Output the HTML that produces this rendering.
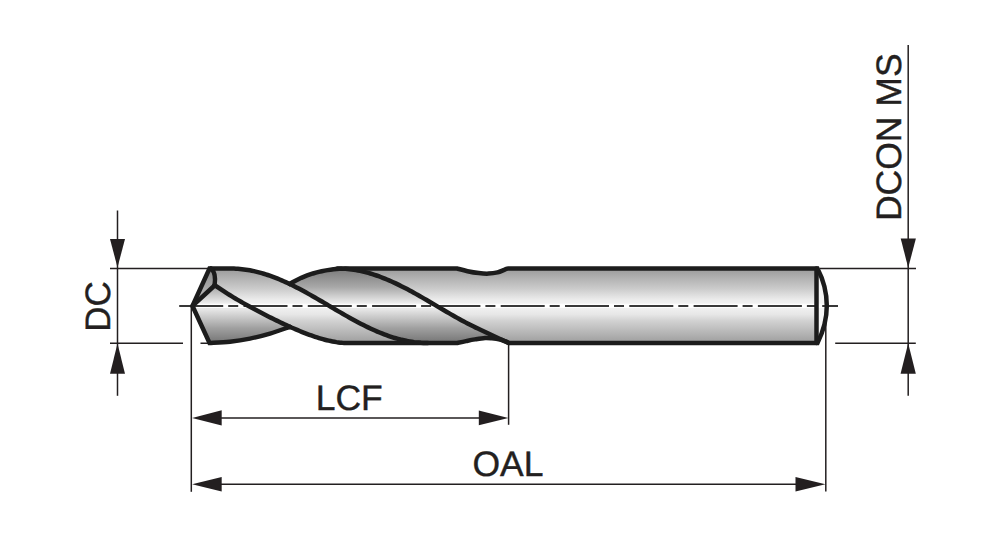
<!DOCTYPE html>
<html><head><meta charset="utf-8"><style>
html,body{margin:0;padding:0;background:#fff;}
svg{display:block;}
text{font-family:"Liberation Sans", sans-serif;fill:#231f20;stroke:#231f20;stroke-width:0.4px;}
</style></head><body>
<svg width="1000" height="537" viewBox="0 0 1000 537" text-rendering="geometricPrecision">
<defs>
<linearGradient id="land" gradientUnits="userSpaceOnUse" x1="0" y1="268.5" x2="0" y2="343.0">
<stop offset="0" stop-color="#9a9a9a"/>
<stop offset="0.275" stop-color="#cccccc"/>
<stop offset="0.42" stop-color="#ececec"/>
<stop offset="0.5" stop-color="#f4f4f4"/>
<stop offset="0.62" stop-color="#e6e6e6"/>
<stop offset="0.7" stop-color="#d2d2d2"/>
<stop offset="0.95" stop-color="#a6a6a6"/>
<stop offset="1" stop-color="#a0a0a0"/>
</linearGradient>
<linearGradient id="flute" gradientUnits="userSpaceOnUse" x1="0" y1="268.5" x2="0" y2="343.0">
<stop offset="0" stop-color="#7a7a7a"/>
<stop offset="0.25" stop-color="#a8a8a8"/>
<stop offset="0.47" stop-color="#eeeeee"/>
<stop offset="0.55" stop-color="#e6e6e6"/>
<stop offset="0.8" stop-color="#a0a0a0"/>
<stop offset="1" stop-color="#747474"/>
</linearGradient>
<linearGradient id="facet" gradientUnits="userSpaceOnUse" x1="0" y1="268.5" x2="0" y2="305">
<stop offset="0" stop-color="#8a8a8a"/>
<stop offset="1" stop-color="#c4c4c4"/>
</linearGradient>
</defs>
<g stroke="#231f20" stroke-width="1.5" fill="none">
<!-- DC dimension -->
<path d="M117.5,210.5 V395.8"/>
<path d="M110,268.5 H208"/>
<path d="M110,343.2 H183 M200.5,343.2 H209"/>
<!-- OAL/LCF extension -->
<path d="M191.3,306 V491.8"/>
<path d="M508.6,344 V424.8"/>
<path d="M825.8,318 V491.5"/>
<!-- DCON -->
<path d="M908.2,45 V395.8"/>
<path d="M820,268.5 H916"/>
<path d="M835.2,343.2 H915.8"/>
<!-- LCF line -->
<path d="M200,417.9 H500"/>
<path d="M200,484.3 H815"/>
</g>
<g fill="#231f20">
<path d="M110,239 L125,239 L117.5,267.5 Z"/>
<path d="M110,373.7 L125,373.7 L117.5,343.4 Z"/>
<path d="M900.7,238.4 L915.9,238.4 L908.2,267.8 Z"/>
<path d="M900.6,373.7 L915.8,373.7 L908.2,343.3 Z"/>
<path d="M192.1,417.9 L221.7,410.3 L221.7,425.4 Z"/>
<path d="M508.4,417.9 L478.8,410.6 L478.8,425.2 Z"/>
<path d="M192.1,484.3 L221.7,477.1 L221.7,491.5 Z"/>
<path d="M825.4,484.2 L795.5,477 L795.5,491.4 Z"/>
</g>
<text transform="translate(349.2,409.6) scale(1,0.995)" font-size="35.5" text-anchor="middle">LCF</text>
<text transform="translate(507.9,476.3) scale(1,0.995)" font-size="35.5" text-anchor="middle">OAL</text>
<text transform="translate(109.6,306.4) rotate(-90) scale(0.985,0.995)" font-size="35.5" text-anchor="middle">DC</text>
<text transform="translate(900.7,137.2) rotate(-90) scale(1,0.995)" font-size="35.5" text-anchor="middle">DCON MS</text>
<!-- drill -->
<path d="M192.5,305.9 L209.5,268.5 L230,268.5 L231.99,268.52 L233.97,268.57 L235.96,268.67 L237.95,268.8 L239.93,268.96 L241.92,269.16 L243.91,269.4 L245.9,269.68 L247.88,269.99 L249.87,270.34 L251.86,270.72 L253.84,271.13 L255.83,271.58 L257.82,272.07 L259.8,272.59 L261.79,273.14 L263.78,273.72 L265.77,274.34 L267.75,274.99 L269.74,275.66 L271.73,276.37 L273.71,277.11 L275.7,277.87 L277.69,278.66 L279.67,279.48 L281.66,280.33 L283.65,281.2 L285.63,282.09 L287.62,283.01 L289.61,283.95 L292.53,282.25 L295.45,280.66 L298.37,279.19 L301.29,277.83 L304.21,276.59 L307.13,275.45 L310.05,274.42 L312.97,273.48 L315.88,272.64 L318.8,271.88 L321.72,271.22 L324.64,270.63 L327.56,270.13 L330.48,269.7 L333.4,269.34 L336.32,269.04 L339.24,268.81 L342.16,268.64 L345.08,268.52 L348,268.5 L457,268.5 C458.75,268.95 463.87,270.43 467.5,271.2 C471.13,271.97 475.3,272.7 478.8,273.1 C482.3,273.5 485.38,273.72 488.5,273.6 C491.62,273.48 494.87,273.03 497.5,272.4 C500.13,271.77 502.55,270.45 504.3,269.8 C506.05,269.15 507.38,268.72 508,268.5 L817.5,268.5 C823.5,280 826.8,293 826.8,305.75 C826.8,318.5 823.5,331 817.5,343 L509,343 C508.33,342.7 506.5,341.78 505,341.2 C503.5,340.62 502.17,339.98 500,339.5 C497.83,339.02 494.5,338.55 492,338.3 C489.5,338.05 487.83,337.82 485,338 C482.17,338.18 478.17,338.88 475,339.4 C471.83,339.92 469,340.5 466,341.1 C463,341.7 458.5,342.68 457,343 L348,343 L346.07,343 L344.13,342.97 L342.2,342.83 L340.27,342.64 L338.33,342.41 L336.4,342.14 L334.47,341.82 L332.53,341.47 L330.6,341.08 L328.67,340.65 L326.73,340.19 L324.8,339.7 L322.87,339.18 L320.93,338.63 L319,338.05 L317.07,337.44 L315.13,336.81 L313.2,336.16 L311.27,335.48 L309.33,334.78 L307.4,334.06 L305.47,333.32 L303.53,332.56 L301.6,331.79 L299.67,331 L297.73,330.19 L295.8,329.37 L293.87,328.54 L291.93,327.69 L290,326.83 C286.67,327.95 276.67,331.64 270,333.6 C263.33,335.56 256.67,337.25 250,338.6 C243.33,339.95 236.75,340.97 230,341.7 C223.25,342.43 212.92,342.78 209.5,343 Z" fill="url(#land)"/>
<path d="M192.5,305.9 L214.6,285.5 L216.48,286.35 L218.37,287.65 L220.25,288.92 L222.14,290.18 L224.03,291.41 L225.91,292.63 L227.79,293.83 L229.68,295.01 L231.56,296.17 L233.45,297.32 L235.34,298.45 L237.22,299.57 L239.1,300.67 L240.99,301.76 L242.88,302.84 L244.76,303.91 L246.64,304.97 L248.53,306.01 L250.41,307.05 L252.3,308.08 L254.19,309.09 L256.07,310.1 L257.95,311.1 L259.84,312.09 L261.73,313.08 L263.61,314.05 L265.5,315.02 L267.38,315.98 L269.26,316.93 L271.15,317.87 L273.03,318.81 L274.92,319.74 L276.81,320.65 L278.69,321.56 L280.57,322.47 L282.46,323.36 L284.35,324.24 L286.23,325.11 L288.12,325.97 L290,326.83 C286.67,327.95 276.67,331.64 270,333.6 C263.33,335.56 256.67,337.25 250,338.6 C243.33,339.95 236.75,340.97 230,341.7 C223.25,342.43 212.92,342.78 209.5,343 Z" fill="url(#flute)"/>
<path d="M289.61,283.95 L292.53,282.25 L295.45,280.66 L298.37,279.19 L301.29,277.83 L304.21,276.59 L307.13,275.45 L310.05,274.42 L312.97,273.48 L315.88,272.64 L318.8,271.88 L321.72,271.22 L324.64,270.63 L327.56,270.13 L330.48,269.7 L333.4,269.34 L336.32,269.04 L339.24,268.81 L342.16,268.64 L345.08,268.52 L348,268.5 L337.3,268.5 L339.37,268.52 L341.43,268.58 L343.5,268.68 L345.57,268.82 L347.64,269 L349.7,269.22 L351.77,269.48 L353.84,269.77 L355.9,270.11 L357.97,270.49 L360.04,270.9 L362.11,271.35 L364.17,271.84 L366.24,272.36 L368.31,272.92 L370.37,273.51 L372.44,274.14 L374.51,274.81 L376.58,275.5 L378.64,276.23 L380.71,276.99 L382.78,277.78 L384.84,278.61 L386.91,279.46 L388.98,280.34 L391.05,281.24 L393.11,282.18 L395.18,283.13 L397.25,284.12 L399.31,285.12 L401.38,286.15 L403.45,287.2 L405.52,288.27 L407.58,289.36 L409.65,290.46 L411.72,291.59 L413.78,292.72 L415.85,293.88 L417.92,295.04 L419.99,296.22 L422.05,297.4 L424.12,298.6 L426.19,299.8 L428.25,301.01 L430.32,302.22 L432.39,303.44 L434.46,304.66 L436.52,305.88 L438.59,307.1 L440.66,308.32 L442.72,309.54 L444.79,310.75 L446.86,311.96 L448.93,313.16 L450.99,314.36 L453.06,315.54 L455.13,316.71 L457.19,317.87 L459.26,319.02 L461.33,320.16 L463.4,321.28 L465.46,322.38 L467.53,323.46 L469.6,324.53 L471.66,325.57 L473.73,326.6 L475.8,327.6 L477.87,328.57 L479.93,329.53 L482,330.45 L508.5,343 L505,341.2 L500,339.5 L492,338.3 L485,338 L475,339 L466,340.8 L457,343 L428,343 L428,343 L425.69,342.98 L423.39,342.9 L421.08,342.78 L418.77,342.6 L416.47,342.38 L414.16,342.11 L411.85,341.78 L409.55,341.41 L407.24,341 L404.93,340.53 L402.63,340.02 L400.32,339.47 L398.02,338.86 L395.71,338.22 L393.4,337.53 L391.1,336.79 L388.79,336.02 L386.48,335.21 L384.18,334.35 L381.87,333.46 L379.56,332.53 L377.26,331.56 L374.95,330.57 L372.64,329.53 L370.34,328.47 L368.03,327.37 L365.72,326.25 L363.42,325.1 L361.11,323.92 L358.8,322.72 L356.5,321.49 L354.19,320.25 L351.88,318.98 L349.58,317.7 L347.27,316.4 L344.97,315.09 L342.66,313.76 L340.35,312.42 L338.05,311.08 L335.74,309.73 L333.43,308.37 L331.13,307.01 L328.82,305.64 L326.51,304.28 L324.21,302.92 L321.9,301.56 L319.59,300.21 L317.29,298.87 L314.98,297.53 L312.67,296.21 L310.37,294.9 L308.06,293.6 L305.75,292.32 L303.45,291.06 L301.14,289.82 L298.83,288.59 L296.53,287.4 L294.22,286.22 L291.92,285.07 L289.61,283.95 Z" fill="url(#flute)"/>
<path d="M192.5,305.9 L209.5,268.5 L211,268.5 C214,271 216,276 214.6,285.5 Z" fill="url(#facet)"/>
<path d="M816.8,268.5 L817.5,268.5 C823.5,280 826.8,293 826.8,305.75 C826.8,318.5 823.5,331 817.5,343 L816.8,343 Z" fill="#f6f6f6"/>
<path d="M196,305.9 H836" stroke="#ffffff" stroke-width="4.2" fill="none" opacity="0.85"/>
<path d="M179.2,305.9 H838" stroke="#383838" stroke-width="2" stroke-dasharray="44 5 10 5.3" fill="none"/>
<g stroke="#1c1c1c" stroke-width="4.5" fill="none" stroke-linejoin="round" stroke-linecap="round">
<path d="M192.5,305.9 L209.5,268.5 L230,268.5 L231.99,268.52 L233.97,268.57 L235.96,268.67 L237.95,268.8 L239.93,268.96 L241.92,269.16 L243.91,269.4 L245.9,269.68 L247.88,269.99 L249.87,270.34 L251.86,270.72 L253.84,271.13 L255.83,271.58 L257.82,272.07 L259.8,272.59 L261.79,273.14 L263.78,273.72 L265.77,274.34 L267.75,274.99 L269.74,275.66 L271.73,276.37 L273.71,277.11 L275.7,277.87 L277.69,278.66 L279.67,279.48 L281.66,280.33 L283.65,281.2 L285.63,282.09 L287.62,283.01 L289.61,283.95 L292.53,282.25 L295.45,280.66 L298.37,279.19 L301.29,277.83 L304.21,276.59 L307.13,275.45 L310.05,274.42 L312.97,273.48 L315.88,272.64 L318.8,271.88 L321.72,271.22 L324.64,270.63 L327.56,270.13 L330.48,269.7 L333.4,269.34 L336.32,269.04 L339.24,268.81 L342.16,268.64 L345.08,268.52 L348,268.5 L457,268.5 C458.75,268.95 463.87,270.43 467.5,271.2 C471.13,271.97 475.3,272.7 478.8,273.1 C482.3,273.5 485.38,273.72 488.5,273.6 C491.62,273.48 494.87,273.03 497.5,272.4 C500.13,271.77 502.55,270.45 504.3,269.8 C506.05,269.15 507.38,268.72 508,268.5 L817.5,268.5 C823.5,280 826.8,293 826.8,305.75 C826.8,318.5 823.5,331 817.5,343 L509,343 C508.33,342.7 506.5,341.78 505,341.2 C503.5,340.62 502.17,339.98 500,339.5 C497.83,339.02 494.5,338.55 492,338.3 C489.5,338.05 487.83,337.82 485,338 C482.17,338.18 478.17,338.88 475,339.4 C471.83,339.92 469,340.5 466,341.1 C463,341.7 458.5,342.68 457,343 L348,343 L346.07,343 L344.13,342.97 L342.2,342.83 L340.27,342.64 L338.33,342.41 L336.4,342.14 L334.47,341.82 L332.53,341.47 L330.6,341.08 L328.67,340.65 L326.73,340.19 L324.8,339.7 L322.87,339.18 L320.93,338.63 L319,338.05 L317.07,337.44 L315.13,336.81 L313.2,336.16 L311.27,335.48 L309.33,334.78 L307.4,334.06 L305.47,333.32 L303.53,332.56 L301.6,331.79 L299.67,331 L297.73,330.19 L295.8,329.37 L293.87,328.54 L291.93,327.69 L290,326.83 C286.67,327.95 276.67,331.64 270,333.6 C263.33,335.56 256.67,337.25 250,338.6 C243.33,339.95 236.75,340.97 230,341.7 C223.25,342.43 212.92,342.78 209.5,343 Z" stroke-linejoin="miter" stroke-miterlimit="2.2"/>
<path d="M289.61,283.95 L291.92,285.07 L294.22,286.22 L296.53,287.4 L298.83,288.59 L301.14,289.82 L303.45,291.06 L305.75,292.32 L308.06,293.6 L310.37,294.9 L312.67,296.21 L314.98,297.53 L317.29,298.87 L319.59,300.21 L321.9,301.56 L324.21,302.92 L326.51,304.28 L328.82,305.64 L331.13,307.01 L333.43,308.37 L335.74,309.73 L338.05,311.08 L340.35,312.42 L342.66,313.76 L344.97,315.09 L347.27,316.4 L349.58,317.7 L351.88,318.98 L354.19,320.25 L356.5,321.49 L358.8,322.72 L361.11,323.92 L363.42,325.1 L365.72,326.25 L368.03,327.37 L370.34,328.47 L372.64,329.53 L374.95,330.57 L377.26,331.56 L379.56,332.53 L381.87,333.46 L384.18,334.35 L386.48,335.21 L388.79,336.02 L391.1,336.79 L393.4,337.53 L395.71,338.22 L398.02,338.86 L400.32,339.47 L402.63,340.02 L404.93,340.53 L407.24,341 L409.55,341.41 L411.85,341.78 L414.16,342.11 L416.47,342.38 L418.77,342.6 L421.08,342.78 L423.39,342.9 L425.69,342.98 L428,343"/>
<path d="M214.6,285.02 L216.48,286.35 L218.37,287.65 L220.25,288.92 L222.14,290.18 L224.03,291.41 L225.91,292.63 L227.79,293.83 L229.68,295.01 L231.56,296.17 L233.45,297.32 L235.34,298.45 L237.22,299.57 L239.1,300.67 L240.99,301.76 L242.88,302.84 L244.76,303.91 L246.64,304.97 L248.53,306.01 L250.41,307.05 L252.3,308.08 L254.19,309.09 L256.07,310.1 L257.95,311.1 L259.84,312.09 L261.73,313.08 L263.61,314.05 L265.5,315.02 L267.38,315.98 L269.26,316.93 L271.15,317.87 L273.03,318.81 L274.92,319.74 L276.81,320.65 L278.69,321.56 L280.57,322.47 L282.46,323.36 L284.35,324.24 L286.23,325.11 L288.12,325.97 L290,326.83"/>
<path d="M337.3,268.5 L339.37,268.52 L341.43,268.58 L343.5,268.68 L345.57,268.82 L347.64,269 L349.7,269.22 L351.77,269.48 L353.84,269.77 L355.9,270.11 L357.97,270.49 L360.04,270.9 L362.11,271.35 L364.17,271.84 L366.24,272.36 L368.31,272.92 L370.37,273.51 L372.44,274.14 L374.51,274.81 L376.58,275.5 L378.64,276.23 L380.71,276.99 L382.78,277.78 L384.84,278.61 L386.91,279.46 L388.98,280.34 L391.05,281.24 L393.11,282.18 L395.18,283.13 L397.25,284.12 L399.31,285.12 L401.38,286.15 L403.45,287.2 L405.52,288.27 L407.58,289.36 L409.65,290.46 L411.72,291.59 L413.78,292.72 L415.85,293.88 L417.92,295.04 L419.99,296.22 L422.05,297.4 L424.12,298.6 L426.19,299.8 L428.25,301.01 L430.32,302.22 L432.39,303.44 L434.46,304.66 L436.52,305.88 L438.59,307.1 L440.66,308.32 L442.72,309.54 L444.79,310.75 L446.86,311.96 L448.93,313.16 L450.99,314.36 L453.06,315.54 L455.13,316.71 L457.19,317.87 L459.26,319.02 L461.33,320.16 L463.4,321.28 L465.46,322.38 L467.53,323.46 L469.6,324.53 L471.66,325.57 L473.73,326.6 L475.8,327.6 L477.87,328.57 L479.93,329.53 L482,330.45 L508.5,343"/>
<path d="M192.5,305.9 L214.6,285.5"/>
<path d="M211,268.5 C214,271 216,276 214.6,285.5"/>
<path d="M816.5,268.5 V343.0"/>
</g>
</svg>
</body></html>
